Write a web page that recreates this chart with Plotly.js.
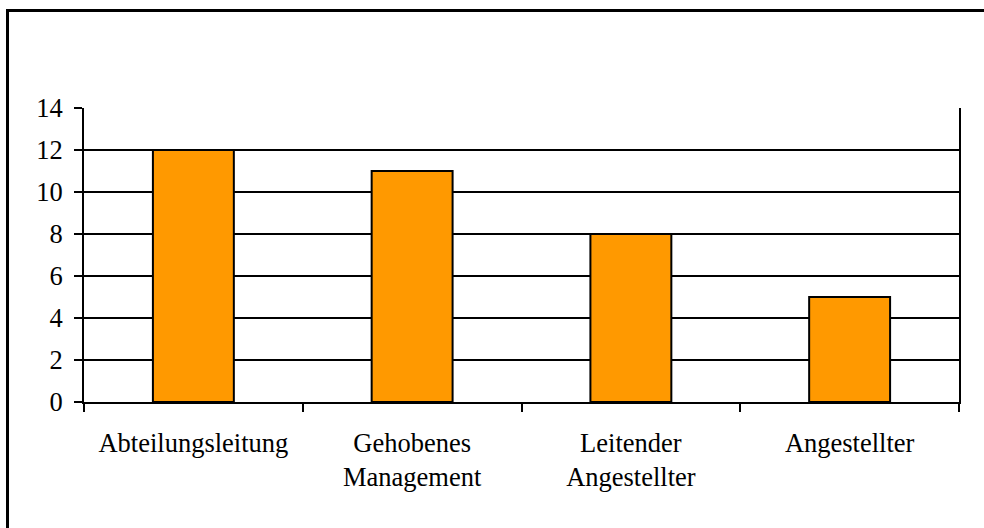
<!DOCTYPE html>
<html>
<head>
<meta charset="utf-8">
<script src="https://cdn.plot.ly/plotly-3.0.1.min.js"></script>
<style>
html,body{margin:0;padding:0;background:#fff;}
#chart{width:984px;height:528px;}
</style>
</head>
<body>
<div id="chart"></div>
<script>
const categories = ["Abteilungsleitung", "Gehobenes<br>Management", "Leitender<br>Angestellter", "Angestellter"];
const values = [12, 11, 8, 5];
const yTickVals = [0, 2, 4, 6, 8, 10, 12, 14];

const FONT = "'Liberation Serif', 'Times New Roman', serif";

const trace = {
  type: "bar",
  x: categories,
  y: values,
  marker: {color: "#FF9900", line: {color: "#000000", width: 2}},
  hoverinfo: "none"
};

const layout = {
  width: 984,
  height: 528,
  margin: {l: 84, r: 25, t: 108, b: 126, pad: 0},
  paper_bgcolor: "#ffffff",
  plot_bgcolor: "#ffffff",
  bargap: 0.63,
  showlegend: false,
  font: {family: FONT, size: 26.5, color: "#000"},
  xaxis: {
    type: "category",
    showline: true, linecolor: "#000", linewidth: 2,
    ticks: "outside", tickson: "boundaries", ticklen: 8, tickwidth: 2, tickcolor: "#000",
    showgrid: false,
    tickfont: {family: FONT, size: 26.5, color: "#000"},
    ticklabelstandoff: 16
  },
  yaxis: {
    range: [0, 14],
    tickvals: yTickVals,
    showline: true, linecolor: "#000", linewidth: 2, mirror: true,
    ticks: "outside", ticklen: 8, tickwidth: 2, tickcolor: "#000",
    showgrid: true, gridcolor: "#000", gridwidth: 2,
    zeroline: false,
    tickfont: {family: FONT, size: 26.5, color: "#000"},
    ticklabelstandoff: 6
  },
  shapes: [
    {type: "line", xref: "paper", yref: "paper", x0: (7.5-84)/875, x1: (7.5-84)/875, y0: -126/294, y1: (402-10.5)/294, line: {color: "#000", width: 3}},
    {type: "line", xref: "paper", yref: "paper", x0: (6-84)/875, x1: (875+25)/875, y0: (402-10.5)/294, y1: (402-10.5)/294, line: {color: "#000", width: 3}}
  ]
};

Plotly.newPlot("chart", [trace], layout, {displayModeBar: false, staticPlot: true});
</script>
</body>
</html>
